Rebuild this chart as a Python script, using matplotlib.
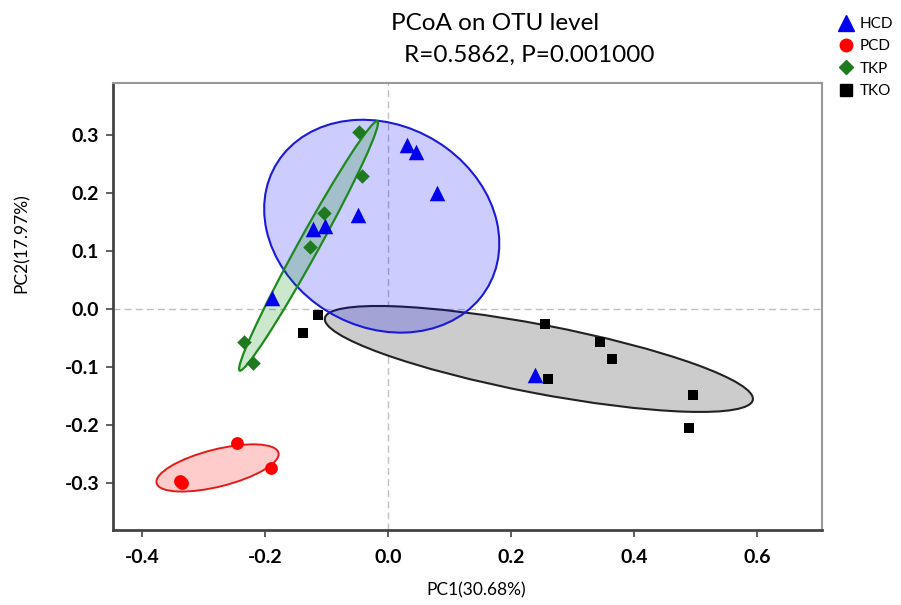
import matplotlib
matplotlib.use("Agg")
import matplotlib.pyplot as plt
from matplotlib.patches import Ellipse
from matplotlib.lines import Line2D

plt.rcParams['font.family'] = ['Lato', 'DejaVu Sans']

# PCoA coordinates
hcd_x = [0.031, 0.046, 0.080, -0.049, -0.122, -0.102, -0.189, 0.239]
hcd_y = [0.283, 0.271, 0.200, 0.162, 0.138, 0.143, 0.019, -0.114]
pcd_x = [-0.338, -0.334, -0.246, -0.190]
pcd_y = [-0.297, -0.300, -0.231, -0.274]
tkp_x = [-0.047, -0.042, -0.104, -0.127, -0.234, -0.220]
tkp_y = [0.305, 0.229, 0.166, 0.107, -0.057, -0.093]
tko_x = [-0.114, -0.138, 0.255, 0.260, 0.345, 0.364, 0.496, 0.489]
tko_y = [-0.010, -0.041, -0.026, -0.121, -0.057, -0.086, -0.148, -0.205]

# confidence ellipses: centre x, centre y, width, height, angle
ell_hcd = [-0.010, 0.143, 0.405, 0.342, -38]
ell_pcd = [-0.277, -0.274, 0.205, 0.064, 15]
ell_tkp = [-0.129, 0.109, 0.485, 0.034, 62.5]
ell_tko = [0.2455, -0.086, 0.71, 0.118, -11.5]

groups = ['HCD', 'PCD', 'TKP', 'TKO']

fig = plt.figure(figsize=(9.01, 6.05), dpi=100)
ax = fig.add_axes([0.1254, 0.124, 0.787, 0.7388])

# ellipses
e = ell_tko
ax.add_patch(Ellipse((e[0], e[1]), e[2], e[3], angle=e[4], facecolor='#cccccc',
                     edgecolor='#222222', lw=1.5, zorder=1))
e = ell_hcd
ax.add_patch(Ellipse((e[0], e[1]), e[2], e[3], angle=e[4], facecolor=(0, 0, 1, 0.2),
                     edgecolor='#1a1ad8', lw=1.5, zorder=2))
e = ell_tkp
ax.add_patch(Ellipse((e[0], e[1]), e[2], e[3], angle=e[4], facecolor=(0, 0.55, 0, 0.2),
                     edgecolor='#1e8a1e', lw=1.6, zorder=3))
e = ell_pcd
ax.add_patch(Ellipse((e[0], e[1]), e[2], e[3], angle=e[4], facecolor=(1, 0, 0, 0.2),
                     edgecolor='#e41a1a', lw=1.4, zorder=3))

ax.axhline(0, color='#c0c0c0', ls=(0, (5, 3)), lw=1, zorder=0.5)
ax.axvline(0, color='#c0c0c0', ls=(0, (5, 3)), lw=1, zorder=0.5)

ax.scatter(hcd_x, hcd_y, marker='^', s=125, color='#0000ee', lw=0, zorder=5)
ax.scatter(pcd_x, pcd_y, marker='o', s=85, color='#ff0000', lw=0, zorder=5)
ax.scatter(tkp_x, tkp_y, marker='D', s=55, color='#1f7a1f', lw=0, zorder=5)
ax.scatter(tko_x, tko_y, marker='s', s=60, color='#000000', lw=0, zorder=5)

ax.set_xlim(-0.447, 0.706)
ax.set_ylim(-0.381, 0.390)
ax.set_xticks([-0.4, -0.2, 0.0, 0.2, 0.4, 0.6])
ax.set_yticks([-0.3, -0.2, -0.1, 0.0, 0.1, 0.2, 0.3])
ax.set_xticklabels(['-0.4', '-0.2', '0.0', '0.2', '0.4', '0.6'])
ax.set_yticklabels(['-0.3', '-0.2', '-0.1', '0.0', '0.1', '0.2', '0.3'])
for lab in ax.get_xticklabels() + ax.get_yticklabels():
    lab.set_fontweight('bold')
    lab.set_fontsize(14)
ax.tick_params(axis='both', direction='out', length=5, width=1.2, color='#444444')
ax.tick_params(axis='x', pad=9)
ax.tick_params(axis='y', pad=5)

for side in ['left', 'bottom']:
    ax.spines[side].set_color('#444444')
    ax.spines[side].set_linewidth(2)
for side in ['top', 'right']:
    ax.spines[side].set_color('#999999')
    ax.spines[side].set_linewidth(1.5)

fig.text(476 / 901, 1 - 590 / 605, 'PC1(30.68%)', ha='center', va='center', fontsize=12.5)
fig.text(22 / 901, 1 - 243 / 605, 'PC2(17.97%)', ha='center', va='center',
         fontsize=12.5, rotation=90)

fig.text(495 / 901, 1 - 23 / 605, 'PCoA on OTU level', ha='center', va='center', fontsize=17.5)
fig.text(529 / 901, 1 - 55 / 605, 'R=0.5862, P=0.001000', ha='center', va='center', fontsize=17.5)

handles = [
    Line2D([], [], ls='', marker='^', ms=11, color='#0000ee'),
    Line2D([], [], ls='', marker='o', ms=9, color='#ff0000'),
    Line2D([], [], ls='', marker='D', ms=7.5, color='#1f7a1f'),
    Line2D([], [], ls='', marker='s', ms=8, color='#000000'),
]
fig.legend(handles, groups, loc='upper left', bbox_to_anchor=(0.924, 0.982),
           frameon=False, fontsize=11, handlelength=1.0, handletextpad=0.4,
           labelspacing=0.55, borderaxespad=0)

fig.savefig('out.png', dpi=100)
